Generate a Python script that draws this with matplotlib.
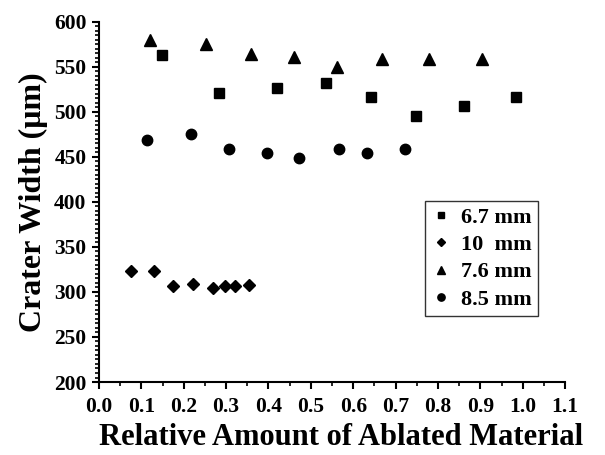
import matplotlib
matplotlib.use("Agg")
import matplotlib.pyplot as plt
from matplotlib.ticker import MultipleLocator

plt.rcParams['font.family'] = ['Liberation Serif', 'DejaVu Serif']
plt.rcParams['font.weight'] = 'bold'

# Data
sq_x = [0.148, 0.284, 0.419, 0.535, 0.642, 0.748, 0.862, 0.985]
sq_y = [563, 521, 526, 532, 516, 495, 506, 516]
di_x = [0.075, 0.131, 0.174, 0.222, 0.269, 0.298, 0.321, 0.354]
di_y = [323, 323, 306, 309, 304, 307, 307, 308]
tr_x = [0.120, 0.252, 0.358, 0.461, 0.561, 0.669, 0.778, 0.903]
tr_y = [580, 575, 564, 561, 549, 558, 558, 558]
ci_x = [0.114, 0.217, 0.307, 0.396, 0.472, 0.566, 0.633, 0.722]
ci_y = [469, 475, 459, 454, 449, 459, 454, 459]
labels = ['6.7 mm', '10  mm', '7.6 mm', '8.5 mm']
x_ticks = [0.0, 0.1, 0.2, 0.3, 0.4, 0.5, 0.6, 0.7, 0.8, 0.9, 1.0, 1.1]
y_ticks = [200, 250, 300, 350, 400, 450, 500, 550, 600]

fig = plt.figure(figsize=(6.05, 4.55), dpi=100)
ax = fig.add_axes([0.1636, 0.1604, 0.934 - 0.1636, 0.9527 - 0.1604])

ax.plot(sq_x, sq_y, linestyle='none', marker='s', markersize=6.5, color='black', label=labels[0])
ax.plot(di_x, di_y, linestyle='none', marker='D', markersize=6.5, color='black', label=labels[1])
ax.plot(tr_x, tr_y, linestyle='none', marker='^', markersize=8.5, color='black', label=labels[2])
ax.plot(ci_x, ci_y, linestyle='none', marker='o', markersize=7.5, color='black', label=labels[3])

ax.set_xlim(0, 1.1)
ax.set_ylim(200, 600)
ax.set_xticks(x_ticks)
ax.set_xticklabels([f"{v:.1f}" for v in x_ticks])
ax.set_yticks(y_ticks)
ax.xaxis.set_minor_locator(MultipleLocator(0.05))
ax.yaxis.set_minor_locator(MultipleLocator(5))

for s in ['top', 'right']:
    ax.spines[s].set_visible(False)
for s in ['left', 'bottom']:
    ax.spines[s].set_linewidth(1.5)

ax.tick_params(which='major', direction='out', length=5, width=1.5, labelsize=15.5, pad=4)
ax.tick_params(axis='x', which='major', pad=6)
ax.tick_params(which='minor', direction='out', length=3, width=1.2)
for lab in ax.get_xticklabels() + ax.get_yticklabels():
    lab.set_fontweight('bold')

ax.set_xlabel('Relative Amount of Ablated Material', fontsize=22, fontweight='bold')
ax.xaxis.set_label_coords(0.52, -0.113)
ax.set_ylabel('Crater Width (μm)', fontsize=23, fontweight='bold', labelpad=4)

leg = ax.legend(loc='upper left', bbox_to_anchor=(0.70, 0.503), frameon=True, fancybox=False,
                edgecolor='black', fontsize=16, markerscale=0.7, handlelength=0.8,
                handletextpad=0.5, borderpad=0.3, labelspacing=0.3, borderaxespad=0)
leg.get_frame().set_linewidth(1.0)
for t in leg.get_texts():
    t.set_fontweight('bold')

fig.savefig('out.png', dpi=100)
